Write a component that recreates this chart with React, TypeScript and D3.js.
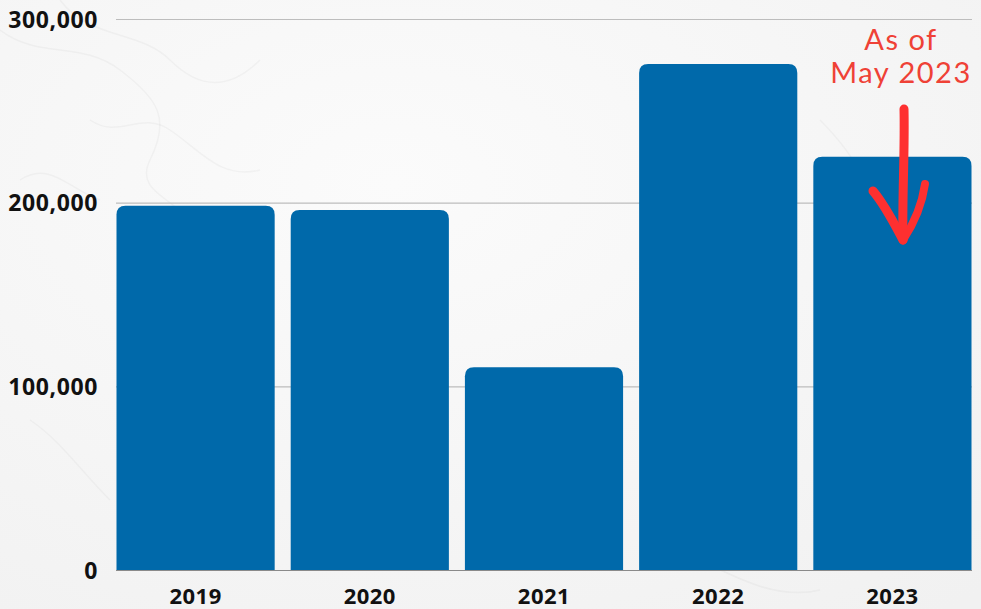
import React from "react";
import * as d3 from "d3";

const years = ["2019", "2020", "2021", "2022", "2023"];
const values = [198600, 196300, 110600, 275800, 225300];
const yTicks = [0, 100000, 200000, 300000];
const noteLines = ["As of", "May 2023"];

const W = 981;
const H = 609;

function topRoundedRect(x: number, y: number, w: number, h: number, r: number) {
  const rr = Math.min(r, h, w / 2);
  const p = d3.path();
  p.moveTo(x, y + h);
  p.lineTo(x, y + rr);
  p.quadraticCurveTo(x, y, x + rr, y);
  p.lineTo(x + w - rr, y);
  p.quadraticCurveTo(x + w, y, x + w, y + rr);
  p.lineTo(x + w, y + h);
  p.closePath();
  return p.toString();
}

export default function App() {
  const x = d3.scaleBand<string>().domain(years).range([116.5, 971.5]).paddingInner(0.092).paddingOuter(0);
  const y = d3.scaleLinear().domain([0, 300000]).range([570.5, 19.5]);
  const fmt = d3.format(",");

  const veins = [
    "M0,30 C40,60 80,40 120,70 S170,120 150,160 S200,200 190,240",
    "M60,0 C90,40 140,30 170,60 S230,90 260,60",
    "M90,120 C120,140 140,110 170,130 S220,180 260,170",
    "M20,180 C50,160 70,190 100,200",
    "M30,420 C60,440 80,470 110,500",
    "M700,560 C740,580 780,600 820,590",
    "M820,120 C860,160 880,200 870,240",
  ];

  return (
    <svg width={W} height={H} style={{ position: "absolute", left: 0, top: 0, display: "block" }}>
      <defs>
        <radialGradient id="bg" cx="0.4" cy="0.3" r="0.9">
          <stop offset="0" stopColor="#fbfbfb" />
          <stop offset="1" stopColor="#f1f1f1" />
        </radialGradient>
      </defs>
      <rect x={0} y={0} width={W} height={H} fill="url(#bg)" />
      {veins.map((d, i) => (
        <path key={i} d={d} fill="none" stroke="#9a9a9a" strokeOpacity={0.08} strokeWidth={1.5} />
      ))}

      {yTicks.map((t) => (
        <g key={t}>
          {t > 0 && (
            <line x1={116} x2={972} y1={y(t)} y2={y(t)} stroke="#bdbdbd" strokeWidth={1.2} />
          )}
          <text
            x={98}
            y={y(t) + 8}
            textAnchor="end"
            fontFamily="'Open Sans', 'Noto Sans', sans-serif"
            fontWeight={700}
            fontSize={23}
            letterSpacing={0.6}
            fill="#111"
          >
            {fmt(t)}
          </text>
        </g>
      ))}

      {years.map((yr, i) => (
        <path
          key={yr}
          d={topRoundedRect(x(yr)!, y(values[i]), x.bandwidth(), y(0) - y(values[i]), 9)}
          fill="#0069aa"
        />
      ))}

      <line x1={116} x2={972} y1={y(0)} y2={y(0)} stroke="#8a8a8a" strokeWidth={1.2} />

      {years.map((yr) => (
        <text
          key={yr}
          x={x(yr)! + x.bandwidth() / 2}
          y={604}
          textAnchor="middle"
          fontFamily="'Open Sans', 'Noto Sans', sans-serif"
          fontWeight={700}
          fontSize={22}
          letterSpacing={0.5}
          fill="#111"
        >
          {yr}
        </text>
      ))}

      {noteLines.map((l, i) => (
        <text
          key={l}
          x={901}
          y={50 + i * 33}
          textAnchor="middle"
          fontFamily="Lato, 'Noto Sans', sans-serif"
          fontSize={29}
          fill="#ef4136"
          letterSpacing={1.5}
        >
          {l}
        </text>
      ))}

      <g fill="none" stroke="#fe3030" strokeLinecap="round" strokeLinejoin="round">
        <path d="M904,109 C905,150 902,200 903,240" strokeWidth={9} />
        <path d="M873,191 C885,205 895,225 903,240" strokeWidth={9} />
        <path d="M925,184 C922,205 913,225 903,240" strokeWidth={8} />
      </g>
    </svg>
  );
}
